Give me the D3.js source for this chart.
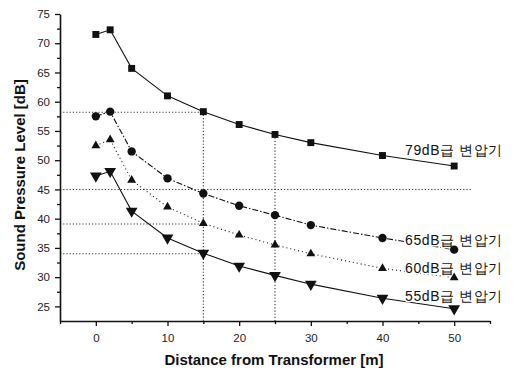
<!DOCTYPE html>
<html>
<head>
<meta charset="utf-8">
<script src="https://cdn.jsdelivr.net/npm/d3@7"></script>
<style>
  body { margin: 0; background: #fff; }
  svg text { font-family: "Liberation Sans", Arial, sans-serif; }
</style>
</head>
<body>
<div id="chart"></div>
<script>
// distances [m]
var distances = [0, 2, 5, 10, 15, 20, 25, 30, 40, 50];

// sound pressure levels [dB] per transformer class
var spl79 = [71.5, 72.3, 65.7, 61.0, 58.3, 56.1, 54.4, 53.0, 50.8, 49.0];
var spl65 = [57.5, 58.3, 51.5, 46.9, 44.3, 42.2, 40.6, 38.9, 36.7, 34.7];
var spl60 = [52.5, 53.5, 46.6, 42.0, 39.2, 37.2, 35.5, 34.0, 31.5, 29.9];
var spl55 = [47.3, 48.1, 41.3, 36.7, 34.1, 31.9, 30.3, 28.8, 26.4, 24.6];

var seriesNames = ["79dB급 변압기", "65dB급 변압기", "60dB급 변압기", "55dB급 변압기"];

// dotted guide lines
var hGuides = [[58.2, 15], [45.0, 52.5], [39.1, 15], [34.0, 15]]; // [level, x end]
var vGuides = [[15, 58.3], [25, 54.4]];                               // [distance, top level]

var xTicks = [0, 10, 20, 30, 40, 50];
var yTicks = [25, 30, 35, 40, 45, 50, 55, 60, 65, 70, 75];

var svgWidth = 522, svgHeight = 371;
var margin = {top: 14, right: 32, bottom: 50, left: 60};
var width = svgWidth - margin.left - margin.right;
var height = svgHeight - margin.top - margin.bottom;

var svg = d3.select("#chart").append("svg")
  .attr("width", svgWidth)
  .attr("height", svgHeight);

var g = svg.append("g")
  .attr("transform", `translate(${margin.left}, ${margin.top})`);

var x = d3.scaleLinear().domain([-5, 55]).range([0, width]);
var y = d3.scaleLinear().domain([22.5, 75]).range([height, 0]);

// guide lines
g.selectAll(".hguide").data(hGuides).enter().append("line")
  .attr("x1", x(-5)).attr("x2", d => x(d[1]))
  .attr("y1", d => y(d[0])).attr("y2", d => y(d[0]))
  .attr("stroke", "#333").attr("stroke-width", 1.1)
  .attr("stroke-dasharray", "1.2,2");

g.selectAll(".vguide").data(vGuides).enter().append("line")
  .attr("x1", d => x(d[0])).attr("x2", d => x(d[0]))
  .attr("y1", d => y(d[1])).attr("y2", y(22.5))
  .attr("stroke", "#333").attr("stroke-width", 1.1)
  .attr("stroke-dasharray", "1.2,2");

// axes
g.append("g").attr("transform", `translate(0, ${height})`)
  .call(d3.axisBottom(x).tickValues(xTicks).tickSize(5).tickSizeOuter(0).tickPadding(8));
g.append("g").attr("transform", `translate(0, ${height})`)
  .call(d3.axisBottom(x).tickValues([-5, 5, 15, 25, 35, 45, 55]).tickSize(3).tickSizeOuter(0).tickFormat(""))
  .select(".domain").remove();

g.append("g")
  .call(d3.axisLeft(y).tickValues(yTicks).tickSize(5).tickSizeOuter(0).tickPadding(5));
g.append("g")
  .call(d3.axisLeft(y).tickValues(d3.range(27.5, 75, 5)).tickSize(3).tickSizeOuter(0).tickFormat(""))
  .select(".domain").remove();

svg.selectAll(".domain").attr("stroke", "#111").attr("stroke-width", 1.6);
svg.selectAll(".tick line").attr("stroke", "#111").attr("stroke-width", 1.3);
svg.selectAll(".tick text").attr("font-size", 11.5).attr("fill", "#222");

// series
var allSeries = [
  {vals: spl79, dash: null, shape: d3.symbolSquare, size: 48},
  {vals: spl65, dash: "6,2,1.5,2", shape: d3.symbolCircle, size: 55},
  {vals: spl60, dash: "1,3", shape: d3.symbolTriangle, size: 34},
  {vals: spl55, dash: null, shape: d3.symbolTriangle, size: 60, flip: true}
];

var line = d3.line().x(d => x(d[0])).y(d => y(d[1]));

allSeries.forEach(function(s) {
  var pts = distances.map((d, i) => [d, s.vals[i]]);
  var path = g.append("path").datum(pts)
    .attr("d", line)
    .attr("fill", "none")
    .attr("stroke", "#111")
    .attr("stroke-width", 1.1);
  if (s.dash) path.attr("stroke-dasharray", s.dash);
  s.pts = pts;
});

// series labels (white halo hides the lines under them)
var labelY = [150, 240, 268, 296];
g.selectAll(".slabel").data(seriesNames).enter().append("text")
  .attr("x", 405 - margin.left)
  .attr("y", (d, i) => labelY[i] - margin.top)
  .attr("dy", "0.35em")
  .attr("font-size", 14)
  .attr("letter-spacing", 0.6)
  .attr("fill", "#111")
  .attr("stroke", "#fff").attr("stroke-width", 3)
  .attr("paint-order", "stroke")
  .text(d => d);

// markers on top
allSeries.forEach(function(s) {
  g.selectAll(null).data(s.pts).enter().append("path")
    .attr("d", d3.symbol().type(s.shape).size(s.size))
    .attr("transform", d => `translate(${x(d[0])}, ${y(d[1])})` + (s.flip ? " rotate(180)" : ""))
    .attr("fill", "#111");
});

// axis titles
svg.append("text")
  .attr("x", 274)
  .attr("y", 365)
  .attr("text-anchor", "middle")
  .attr("font-size", 15)
  .attr("font-weight", "bold")
  .attr("fill", "#111")
  .text("Distance from Transformer [m]");

svg.append("text")
  .attr("transform", "translate(25, 175) rotate(-90)")
  .attr("text-anchor", "middle")
  .attr("font-size", 15)
  .attr("font-weight", "bold")
  .attr("fill", "#111")
  .text("Sound Pressure Level [dB]");
</script>
</body>
</html>
